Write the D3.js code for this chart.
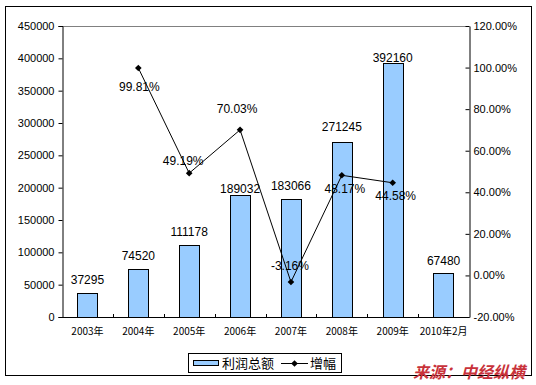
<!DOCTYPE html>
<html><head><meta charset="utf-8">
<script src="https://cdn.jsdelivr.net/npm/d3@7/dist/d3.min.js"></script>
<style>html,body{margin:0;padding:0;background:#fff;}svg{display:block;}</style>
</head><body>
<script>
const categories = ["2003年","2004年","2005年","2006年","2007年","2008年","2009年","2010年2月"];
const profit = [37295, 74520, 111178, 189032, 183066, 271245, 392160, 67480];
const growth = [null, 99.81, 49.19, 70.03, -3.16, 48.17, 44.58, null];
const leftTicks = [0, 50000, 100000, 150000, 200000, 250000, 300000, 350000, 400000, 450000];
const rightTicks = [-20, 0, 20, 40, 60, 80, 100, 120];
const legendLabels = ["利润总额", "增幅"];
const sourceText = "来源：中经纵横";

// label placement offsets (layout only)
const barLabelDy = [-13, -13, -13, -6, -13, -15, -6, -13];
const pctLabelOff = [null, [1, 19], [-6, -12], [-3, -21], [-1, -16], [3, 13], [3, 13], null];

const W = 536, H = 385;
const svg = d3.select("body").append("svg").attr("width", W).attr("height", H);
const numFont = "'Liberation Sans', Arial, sans-serif";
const cjkFont = "'Noto Sans CJK SC', 'Liberation Sans', sans-serif";

svg.append("rect").attr("x", 5.5).attr("y", 6.5).attr("width", 526).attr("height", 369)
  .attr("fill", "#fff").attr("stroke", "#000").attr("stroke-width", 1);

const L = 62, R = 469, T = 26, B = 317;
const x = d3.scaleBand().domain(categories).range([L, R]).padding(0);
const y = d3.scaleLinear().domain([0, 450000]).range([B, T]);
const y2 = d3.scaleLinear().domain([-20, 120]).range([B, T]);

// plot top border (gray)
svg.append("line").attr("x1", L).attr("x2", R).attr("y1", T + 0.5).attr("y2", T + 0.5)
  .attr("stroke", "#808080");

// bars
const bw = x.bandwidth() * 0.4;
svg.append("g").selectAll("rect").data(profit).join("rect")
  .attr("x", (d, i) => Math.round(x(categories[i]) + (x.bandwidth() - bw) / 2) + 0.5)
  .attr("y", d => Math.round(y(d)) + 0.5)
  .attr("width", Math.round(bw))
  .attr("height", d => B - Math.round(y(d)))
  .attr("fill", "#99CCFF").attr("stroke", "#000").attr("stroke-width", 1);

// left axis
const gL = svg.append("g").attr("transform", `translate(${L + 0.5},0)`)
  .call(d3.axisLeft(y).tickValues(leftTicks).tickSize(4).tickPadding(4).tickFormat(d3.format("d")));
gL.select(".domain").attr("stroke", "#000");
gL.selectAll("text").attr("font-family", numFont).attr("font-size", 11).attr("fill", "#000");

// right axis
const gR = svg.append("g").attr("transform", `translate(${R + 0.5},0)`)
  .call(d3.axisRight(y2).tickValues(rightTicks).tickSize(0).tickPadding(4).tickFormat(d => d.toFixed(2) + "%"));
gR.select(".domain").attr("stroke", "#000");
gR.selectAll(".tick line").attr("x1", -4).attr("x2", 0).attr("stroke", "#000");
gR.selectAll("text").attr("font-family", numFont).attr("font-size", 11).attr("fill", "#000");

// bottom axis
const gB = svg.append("g").attr("transform", `translate(0,${B + 0.5})`)
  .call(d3.axisBottom(x).tickSize(0).tickPadding(10));
gB.select(".domain").attr("stroke", "#000").attr("d", `M${L},0H${R + 0.5}`);
gB.selectAll("text").attr("font-family", cjkFont).attr("font-size", 10).attr("fill", "#000");
svg.append("g").selectAll("line").data(categories.slice(1)).join("line")
  .attr("x1", d => Math.round(x(d)) + 0.5).attr("x2", d => Math.round(x(d)) + 0.5)
  .attr("y1", B).attr("y2", B - 3).attr("stroke", "#000");

// bar labels
svg.append("g").selectAll("text").data(profit).join("text")
  .attr("x", (d, i) => x(categories[i]) + x.bandwidth() / 2)
  .attr("y", (d, i) => y(d) + barLabelDy[i])
  .attr("dy", "0.35em")
  .attr("text-anchor", "middle").attr("font-family", numFont).attr("font-size", 12)
  .attr("fill", "#000").text(d => d);

// growth line
const pts = growth.map((g, i) => g == null ? null : { x: x(categories[i]) + x.bandwidth() / 2, y: y2(g), v: g, i })
  .filter(p => p);
svg.append("path").datum(pts)
  .attr("d", d3.line().x(p => p.x).y(p => p.y))
  .attr("fill", "none").attr("stroke", "#000").attr("stroke-width", 1);
svg.append("g").selectAll("path").data(pts).join("path")
  .attr("transform", p => `translate(${p.x},${p.y})`)
  .attr("d", d3.symbol(d3.symbolDiamond2, 28)).attr("fill", "#000");
svg.append("g").selectAll("text").data(pts).join("text")
  .attr("x", p => p.x + pctLabelOff[p.i][0])
  .attr("y", p => p.y + pctLabelOff[p.i][1])
  .attr("dy", "0.35em")
  .attr("text-anchor", "middle").attr("font-family", numFont).attr("font-size", 12)
  .attr("fill", "#000").text(p => p.v.toFixed(2) + "%");

// legend
const lg = svg.append("g");
lg.append("rect").attr("x", 188.5).attr("y", 353.5).attr("width", 153).attr("height", 19)
  .attr("fill", "#fff").attr("stroke", "#000");
lg.append("rect").attr("x", 193.5).attr("y", 360.5).attr("width", 25).attr("height", 5)
  .attr("fill", "#99CCFF").attr("stroke", "#000");
lg.append("text").attr("x", 222).attr("y", 363).attr("dy", "0.35em")
  .attr("font-family", cjkFont).attr("font-size", 13).attr("fill", "#000").text(legendLabels[0]);
lg.append("line").attr("x1", 281).attr("x2", 308).attr("y1", 363.5).attr("y2", 363.5).attr("stroke", "#000");
lg.append("path").attr("transform", "translate(294.5,363.5)")
  .attr("d", d3.symbol(d3.symbolDiamond2, 28)).attr("fill", "#000");
lg.append("text").attr("x", 310).attr("y", 363).attr("dy", "0.35em")
  .attr("font-family", cjkFont).attr("font-size", 13).attr("fill", "#000").text(legendLabels[1]);

// source
svg.append("text").attr("x", 413).attr("y", 378)
  .attr("font-family", cjkFont).attr("font-size", 16).attr("font-weight", "bold")
  .attr("font-style", "italic").attr("fill", "#C8323A").text(sourceText);
</script>
</body></html>
